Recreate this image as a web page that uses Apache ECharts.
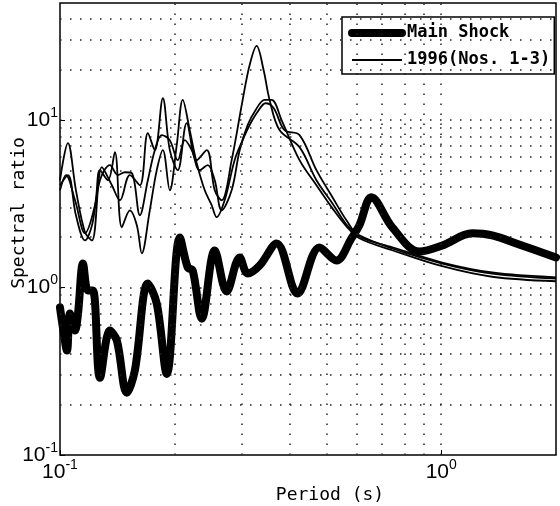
<!DOCTYPE html>
<html>
<head>
<meta charset="utf-8">
<script src="https://cdn.jsdelivr.net/npm/echarts@6/dist/echarts.min.js"></script>
<style>html,body{margin:0;padding:0;background:#fff;}#c{width:560px;height:506px;}</style>
</head>
<body>
<div id="c"></div>
<script>
// ---- data (period in s, spectral ratio) ----
const mainPeriod = [0.100,0.1018,0.1043,0.1062,0.1095,0.1115,0.1149,0.1184,0.1220,0.1273,0.1352,0.1410,0.1497,0.1571,0.1700,0.1794,0.1906,0.2062,0.2163,0.2229,0.2354,0.2546,0.2736,0.2960,0.3106,0.3339,0.3699,0.4198,0.4793,0.5310,0.5814,0.6099,0.6557,0.7440,0.8756,1.006,1.205,1.360,1.600,2.0];
const mainRatio  = [0.759,0.576,0.420,0.699,0.553,0.699,1.392,0.959,0.959,0.289,0.553,0.482,0.235,0.318,1.057,0.802,0.305,1.992,1.318,1.264,0.652,1.666,0.946,1.512,1.213,1.354,1.834,0.921,1.736,1.451,1.965,2.351,3.458,2.287,1.643,1.784,2.106,2.048,1.809,1.512];

const no1Period = [0.100,0.1049,0.1101,0.1163,0.1213,0.1288,0.1368,0.1436,0.1525,0.1620,0.1700,0.1773,0.1861,0.1941,0.2036,0.2150,0.2284,0.2426,0.2546,0.2655,0.2820,0.3014,0.3144,0.3279,0.3420,0.3546,0.3766,0.4249,0.4706,0.5184,0.5641,0.6099,0.7440,1.006,1.360,2.0];
const no1Ratio  = [4.37,7.29,3.81,2.14,1.91,5.23,4.08,3.32,4.69,4.08,8.36,6.61,13.5,6.61,5.02,9.59,5.76,6.61,3.81,3.32,5.76,13.2,21.3,27.7,19.9,13.2,8.71,6.89,4.37,3.18,2.38,2.05,1.71,1.39,1.21,1.13];

const no2Period = [0.100,0.1037,0.1095,0.1163,0.1235,0.1273,0.1336,0.1393,0.1453,0.1525,0.1591,0.1639,0.1720,0.1794,0.1861,0.1941,0.2024,0.2099,0.2189,0.2284,0.2397,0.2500,0.2576,0.2703,0.2871,0.3014,0.3144,0.3299,0.3461,0.3633,0.3882,0.4249,0.4706,0.5184,0.5641,0.6099,0.7440,1.006,1.360,2.0];
const no2Ratio  = [3.81,4.69,3.32,2.11,3.10,5.02,4.37,6.43,2.29,2.89,2.35,1.60,2.89,5.02,6.61,3.81,7.09,13.2,8.71,5.53,3.81,3.10,2.63,3.32,5.76,7.59,9.33,11.2,12.6,11.8,8.71,8.13,5.02,3.46,2.52,2.02,1.74,1.41,1.23,1.15];

const no3Period = [0.100,0.1049,0.1101,0.1163,0.1213,0.1273,0.1352,0.1419,0.1480,0.1543,0.1620,0.1700,0.1773,0.1849,0.1941,0.2036,0.2125,0.2216,0.2326,0.2441,0.2546,0.2655,0.2820,0.2960,0.3106,0.3260,0.3441,0.3589,0.3812,0.4249,0.4706,0.5184,0.5641,0.6099,0.7440,1.006,1.360,2.0];
const no3Ratio  = [4.08,4.69,2.70,1.91,2.35,4.37,5.38,4.69,4.88,4.82,2.70,4.37,6.61,8.13,7.59,5.76,7.59,6.61,5.02,5.38,4.37,2.89,3.81,6.61,9.33,11.5,13.2,13.2,10.0,5.76,4.08,2.97,2.32,1.97,1.67,1.34,1.16,1.09];

const gridX = [0.2,0.3,0.4,0.5,0.6,0.7,0.8,0.9,1];
const gridY = [0.2,0.3,0.4,0.5,0.6,0.7,0.8,0.9,1,2,3,4,5,6,7,8,9,10,20,30,40];

const legendNames = ['Main Shock','1996(Nos. 1-3)'];
const xName = 'Period (s)';
const yName = 'Spectral ratio';
// ---------------------------------------------

function zip(a, b) { return a.map((v, i) => [v, b[i]]); }

const LABELFONT = "'Liberation Sans','DejaVu Sans',sans-serif";
const MONO = "'DejaVu Sans Mono','Liberation Mono',monospace";

function powLabel(v) {
  const e = Math.round(Math.log10(v));
  return '{b|10}{s|' + e + '}';
}
const richPow = {
  b: { fontSize: 21, fontFamily: LABELFONT, color: '#000', lineHeight: 28 },
  s: { fontSize: 14, fontFamily: LABELFONT, color: '#000', verticalAlign: 'top', lineHeight: 16 }
};

const MAIN_W = 8;
const THIN_W = 1.8;

const chart = echarts.init(document.getElementById('c'), null, { renderer: 'canvas' });

chart.setOption({
  backgroundColor: '#fff',
  animation: false,
  grid: { left: 60, right: 4, top: 3, bottom: 51, show: true, borderColor: '#000', borderWidth: 1.5, backgroundColor: 'transparent' },
  xAxis: {
    type: 'log', logBase: 10, min: 0.1, max: 2,
    axisLine: { show: false },
    axisTick: { show: true, inside: true, length: 5, lineStyle: { color: '#000' } },
    splitLine: { show: false },
    axisLabel: { show: true, margin: 3, showMaxLabel: false, formatter: powLabel, rich: richPow }
  },
  yAxis: {
    type: 'log', logBase: 10, min: 0.1, max: 50,
    axisLine: { show: false },
    axisTick: { show: true, inside: true, length: 5, lineStyle: { color: '#000' } },
    splitLine: { show: false },
    axisLabel: { show: true, margin: 2, showMaxLabel: false, formatter: powLabel, rich: richPow }
  },
  legend: {
    data: [
      { name: legendNames[0], lineStyle: { width: MAIN_W, color: '#000' } },
      { name: legendNames[1], lineStyle: { width: THIN_W, color: '#000' } }
    ],
    orient: 'vertical',
    left: 342, top: 17,
    padding: [6, 4, 4, 6],
    itemGap: 7,
    itemWidth: 50, itemHeight: 20,
    backgroundColor: '#fff',
    borderColor: '#000', borderWidth: 1.5, borderRadius: 0,
    selectedMode: false,
    itemStyle: { opacity: 0, color: 'transparent', borderWidth: 0 },
    textStyle: { fontFamily: MONO, fontSize: 17, fontWeight: 'bold', color: '#000', lineHeight: 20 }
  },
  graphic: [
    { type: 'text', x: 19, y: 213, rotation: Math.PI / 2,
      style: { text: yName, fontFamily: MONO, fontSize: 18, fill: '#000', align: 'center', verticalAlign: 'middle' } },
    { type: 'text', x: 330, y: 495,
      style: { text: xName, fontFamily: MONO, fontSize: 18, fill: '#000', align: 'center', verticalAlign: 'middle' } }
  ],
  series: [
    {
      name: 'grid', type: 'line', data: [], z: 1, silent: true,
      markLine: {
        silent: true, symbol: 'none', animation: false,
        label: { show: false },
        lineStyle: { color: '#222', width: 1.5, type: [1.5, 8.5] },
        data: gridX.map(v => ({ xAxis: v })).concat(gridY.map(v => ({ yAxis: v })))
      }
    },
    { name: legendNames[1], type: 'line', data: zip(no1Period, no1Ratio), symbol: 'none', smooth: 0.35, z: 3, lineStyle: { color: '#000', width: THIN_W }, itemStyle: { color: '#000' } },
    { name: '1996 No.2', type: 'line', data: zip(no2Period, no2Ratio), symbol: 'none', smooth: 0.35, z: 3, lineStyle: { color: '#000', width: THIN_W }, itemStyle: { color: '#000' } },
    { name: '1996 No.3', type: 'line', data: zip(no3Period, no3Ratio), symbol: 'none', smooth: 0.35, z: 3, lineStyle: { color: '#000', width: THIN_W }, itemStyle: { color: '#000' } },
    { name: legendNames[0], type: 'line', data: zip(mainPeriod, mainRatio), symbol: 'none', smooth: 0.35, z: 4,
      lineStyle: { color: '#000', width: MAIN_W, cap: 'round', join: 'round' }, itemStyle: { color: '#000' } }
  ]
});
</script>
</body>
</html>
